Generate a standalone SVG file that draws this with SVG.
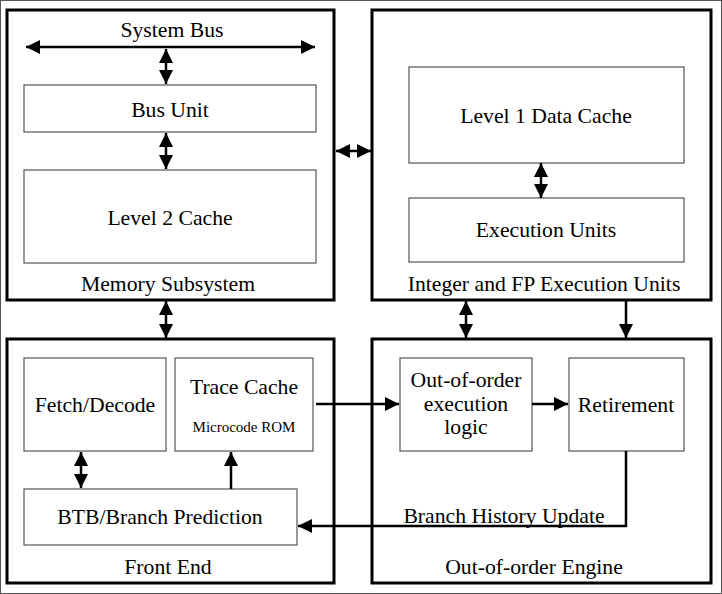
<svg xmlns="http://www.w3.org/2000/svg" width="722" height="594" viewBox="0 0 722 594">
<defs>
<style>
.frame{fill:#fff;stroke:#555;stroke-width:1}
.group{fill:#fff;stroke:#000;stroke-width:3}
.box{fill:#fff;stroke:#555;stroke-width:1.2}
.conn{fill:none;stroke:#000;stroke-width:2.5}
text{font-family:'Liberation Serif','Times New Roman',serif;font-size:21.7px;fill:#000;text-anchor:middle}
.small{font-size:15px}
</style>
<marker id="ah" viewBox="0 0 10 10" refX="10" refY="5" markerWidth="6" markerHeight="5.6" markerUnits="strokeWidth" orient="auto-start-reverse">
<path d="M0,0 L10,5 L0,10 Z" fill="#000"/>
</marker>
</defs>
<rect class="frame" x="0.5" y="0.5" width="721" height="593"/>

<g id="memory-subsystem">
<rect class="group" x="7" y="10" width="327" height="290"/>
<text x="168" y="291">Memory Subsystem</text>
</g>
<g id="system-bus"><text x="172" y="37">System Bus</text></g>
<g id="bus-unit">
<rect class="box" x="24" y="85" width="292" height="47"/>
<text x="170" y="117">Bus Unit</text>
</g>
<g id="level2-cache">
<rect class="box" x="24" y="170" width="292" height="93"/>
<text x="170" y="225">Level 2 Cache</text>
</g>

<g id="int-fp-exec">
<rect class="group" x="372" y="10" width="339" height="290"/>
<text x="544" y="291">Integer and FP Execution Units</text>
</g>
<g id="level1-data-cache">
<rect class="box" x="409" y="67" width="275" height="96"/>
<text x="546" y="123">Level 1 Data Cache</text>
</g>
<g id="execution-units">
<rect class="box" x="409" y="198" width="275" height="64"/>
<text x="546" y="237">Execution Units</text>
</g>

<g id="front-end">
<rect class="group" x="7" y="339" width="327" height="244"/>
<text x="168" y="574">Front End</text>
</g>
<g id="fetch-decode">
<rect class="box" x="24" y="358" width="142" height="93"/>
<text x="95" y="412">Fetch/Decode</text>
</g>
<g id="trace-cache">
<rect class="box" x="175" y="358" width="138" height="93"/>
<text x="244" y="394">Trace Cache</text>
<text class="small" x="244" y="432">Microcode ROM</text>
</g>
<g id="btb">
<rect class="box" x="24" y="489" width="273" height="56"/>
<text x="160" y="524">BTB/Branch Prediction</text>
</g>

<g id="ooo-engine">
<rect class="group" x="372" y="339" width="339" height="244"/>
<text x="534" y="574">Out-of-order Engine</text>
</g>
<g id="ooo-logic">
<rect class="box" x="400" y="358" width="132" height="93"/>
<text x="466" y="387">Out-of-order</text>
<text x="466" y="411">execution</text>
<text x="466" y="434">logic</text>
</g>
<g id="retirement">
<rect class="box" x="569" y="358" width="115" height="93"/>
<text x="626" y="412">Retirement</text>
</g>
<g id="branch-history-label"><text x="504" y="523">Branch History Update</text></g>

<g id="connectors">
<line class="conn" x1="26" y1="47" x2="315" y2="47" marker-start="url(#ah)" marker-end="url(#ah)"/>
<line class="conn" x1="166" y1="49" x2="166" y2="84" marker-start="url(#ah)" marker-end="url(#ah)"/>
<line class="conn" x1="166" y1="133" x2="166" y2="169" marker-start="url(#ah)" marker-end="url(#ah)"/>
<line class="conn" x1="336" y1="151" x2="371" y2="151" marker-start="url(#ah)" marker-end="url(#ah)"/>
<line class="conn" x1="541" y1="163" x2="541" y2="198" marker-start="url(#ah)" marker-end="url(#ah)"/>
<line class="conn" x1="166" y1="301" x2="166" y2="338" marker-start="url(#ah)" marker-end="url(#ah)"/>
<line class="conn" x1="466" y1="301" x2="466" y2="338" marker-start="url(#ah)" marker-end="url(#ah)"/>
<line class="conn" x1="626" y1="301" x2="626" y2="338" marker-end="url(#ah)"/>
<line class="conn" x1="81" y1="452" x2="81" y2="488" marker-start="url(#ah)" marker-end="url(#ah)"/>
<line class="conn" x1="231" y1="489" x2="231" y2="452" marker-end="url(#ah)"/>
<line class="conn" x1="316" y1="404" x2="399" y2="404" marker-end="url(#ah)"/>
<line class="conn" x1="532" y1="404" x2="568" y2="404" marker-end="url(#ah)"/>
<polyline class="conn" points="626,451 626,526 298,526" marker-end="url(#ah)"/>
</g>
</svg>
